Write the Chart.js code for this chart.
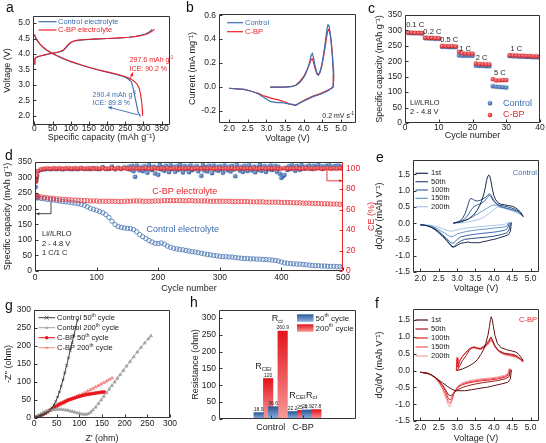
<!DOCTYPE html>
<html>
<head>
<meta charset="utf-8">
<script src="https://cdn.jsdelivr.net/npm/chart.js@4.4.0/dist/chart.umd.min.js"></script>
<style>
html,body{margin:0;padding:0;background:#fff;}
body{width:546px;height:443px;position:relative;overflow:hidden;font-family:"Liberation Sans",Arial,sans-serif;}
canvas{position:absolute;}
.pl{position:absolute;font-size:14px;line-height:14px;color:#111;}
</style>
</head>
<body>
<canvas id="ca"></canvas><canvas id="cb"></canvas><canvas id="cc"></canvas><canvas id="cd"></canvas>
<canvas id="ce"></canvas><canvas id="cf"></canvas><canvas id="cg"></canvas><canvas id="ch"></canvas>
<div class="pl" style="left:6px;top:0px">a</div>
<div class="pl" style="left:186px;top:0px">b</div>
<div class="pl" style="left:368px;top:1px">c</div>
<div class="pl" style="left:5px;top:148px">d</div>
<div class="pl" style="left:376px;top:150px">e</div>
<div class="pl" style="left:375px;top:296px">f</div>
<div class="pl" style="left:5px;top:298px">g</div>
<div class="pl" style="left:190px;top:295px">h</div>
<script>
const FONT = '"Liberation Sans", Arial, sans-serif';
const BLUE = '#3d6db1', RED = '#ea2228', INK = '#222';
Chart.defaults.font.family = FONT;
Chart.defaults.color = INK;

// ================= DATA =================
// (a) first charge / discharge, [capacity mAh/g, voltage V]
const a_ctrl_chg = [[0,3.66],[1,3.84],[4,3.88],[10,3.91],[20,3.94],[30,3.97],[40,4.0],[50,4.02],[60,4.04],[70,4.07],[78,4.1],[85,4.17],[92,4.27],[100,4.36],[108,4.41],[120,4.44],[140,4.46],[170,4.48],[200,4.5],[230,4.51],[260,4.54],[280,4.57],[295,4.61],[305,4.65],[314,4.7],[320,4.75],[323,4.8]];
const a_ctrl_dis = [[0,4.62],[3,4.52],[8,4.42],[15,4.32],[25,4.2],[35,4.11],[45,4.04],[60,3.95],[80,3.84],[100,3.75],[125,3.65],[150,3.56],[175,3.48],[200,3.41],[225,3.34],[245,3.27],[258,3.19],[267,3.1],[271,2.92],[276,2.64],[281,2.36],[285,2.13],[288,2.05],[290.4,2.0]];
const a_cbp_chg = [[0,3.68],[1,3.85],[4,3.89],[10,3.92],[20,3.95],[30,3.98],[40,4.01],[50,4.03],[60,4.05],[70,4.08],[78,4.12],[85,4.2],[92,4.3],[100,4.38],[108,4.42],[120,4.45],[140,4.47],[170,4.49],[200,4.5],[230,4.52],[260,4.54],[280,4.57],[295,4.6],[310,4.65],[320,4.71],[326,4.76],[330,4.8]];
const a_cbp_dis = [[0,4.64],[3,4.54],[8,4.44],[15,4.33],[25,4.21],[35,4.12],[45,4.05],[60,3.96],[80,3.85],[100,3.76],[125,3.66],[150,3.57],[175,3.49],[200,3.42],[225,3.35],[245,3.29],[260,3.22],[272,3.14],[282,3.03],[288,2.9],[292,2.7],[295,2.45],[296.8,2.2],[297.6,2.0]];
const a_series = ['Control electrolyte','C-BP electrolyte'];
const a_notes = {cbp:['297.6 mAh g','ICE: 90.2 %'], ctrl:['290.4 mAh g','ICE: 89.8 %']};
const a_xticks = [0,50,100,150,200,250,300,350];
const a_yticks = [2.0,2.5,3.0,3.5,4.0,4.5,5.0];

// (b) CV, [voltage V, current mA/mg]
const b_ctrl = [[3.1,0.0],[3.3,0.0],[3.5,0.0],[3.7,0.005],[3.8,0.015],[3.9,0.04],[4.0,0.08],[4.05,0.11],[4.1,0.15],[4.15,0.2],[4.2,0.265],[4.23,0.28],[4.26,0.25],[4.3,0.18],[4.35,0.12],[4.39,0.1],[4.43,0.12],[4.48,0.18],[4.53,0.27],[4.58,0.38],[4.62,0.48],[4.65,0.52],[4.68,0.51],[4.72,0.42],[4.76,0.28],[4.79,0.15],[4.8,0.05],[4.78,0.0],[4.74,-0.01],[4.65,-0.03],[4.55,-0.045],[4.45,-0.06],[4.35,-0.07],[4.25,-0.08],[4.15,-0.095],[4.05,-0.11],[3.95,-0.125],[3.85,-0.14],[3.78,-0.15],[3.7,-0.145],[3.6,-0.14],[3.5,-0.135],[3.4,-0.13],[3.3,-0.13],[3.2,-0.125],[3.1,-0.12],[3.0,-0.1],[2.9,-0.08],[2.8,-0.06],[2.7,-0.045],[2.6,-0.035],[2.4,-0.02],[2.2,-0.015],[2.0,-0.01]];
const b_cbp = [[3.1,0.0],[3.5,0.0],[3.7,0.005],[3.8,0.02],[3.9,0.05],[4.0,0.09],[4.05,0.12],[4.1,0.15],[4.15,0.19],[4.2,0.23],[4.23,0.235],[4.26,0.21],[4.3,0.16],[4.35,0.11],[4.39,0.1],[4.43,0.12],[4.48,0.17],[4.53,0.25],[4.58,0.35],[4.63,0.45],[4.66,0.48],[4.69,0.47],[4.73,0.4],[4.77,0.27],[4.8,0.1],[4.79,0.0],[4.75,-0.01],[4.65,-0.025],[4.55,-0.04],[4.45,-0.055],[4.35,-0.065],[4.25,-0.075],[4.15,-0.09],[4.05,-0.105],[3.95,-0.12],[3.85,-0.14],[3.78,-0.155],[3.72,-0.15],[3.6,-0.14],[3.5,-0.125],[3.4,-0.115],[3.3,-0.105],[3.2,-0.098],[3.1,-0.09],[3.0,-0.08],[2.9,-0.07],[2.8,-0.055],[2.7,-0.045],[2.6,-0.035],[2.4,-0.02],[2.2,-0.015],[2.0,-0.01]];
const b_series = ['Control','C-BP'];
const b_xticks = [2.0,2.5,3.0,3.5,4.0,4.5,5.0];
const b_yticks = [-0.2,0.0,0.2,0.4,0.6];

// (c) rate capability
const c_cycles = [1,2,3,4,5,6,7,8,9,10,11,12,13,14,15,16,17,18,19,20,21,22,23,24,25,26,27,28,29,30,31,32,33,34,35,36,37,38,39,40];
const c_ctrl = [292,291,291,291,290,275,274,274,273,273,247,247,246,246,246,219,218,218,218,218,186,185,185,184,184,119,118,117,116,115,217,216,216,215,215,214,214,213,213,213];
const c_cbp  = [293,293,292,292,292,277,276,276,275,275,250,249,249,249,248,231,226,225,225,225,193,191,191,190,190,142,138,138,139,139,220,219,219,218,218,217,217,216,216,215];
const c_rates = ['0.1 C','0.2 C','0.5 C','1 C','2 C','5 C','1 C'];
const c_xticks = [0,10,20,30,40];
const c_yticks = [0,50,100,150,200,250,300,350];

// (d) long cycling
const d_cyc = [1,2,3,5,10,15,20,25,30,35,40,45,50,55,60,65,70,75,80,85,90,95,100,105,110,115,120,125,130,135,140,145,150,155,160,165,170,175,180,185,190,195,200,205,210,215,220,225,230,235,240,245,250,255,260,265,270,275,280,285,290,295,300,305,310,315,320,325,330,335,340,345,350,355,360,365,370,375,380,385,390,395,400,405,410,415,420,425,430,435,440,445,450,455,460,465,470,475,480,485,490,495,500];
const d_ctrl_cap = [236,236,235,
 235,233,232,230,229,228,226,225,223,222,
 221,219,218,216,214,211,206,201,198,195,
 191,187,181,172,160,149,143,140,138,137,
 136,133,126,117,110,104,98,93,89,88,
 90,86,80,76,73,71,69,68,66,64,
 62,61,59,57,55,53,52,50,49,47,
 46,46,45,45,43,42,41,40,40,39,
 39,38,38,37,37,36,35,34,32,29,
 26,25,24,23,22,22,21,20,19,18,
 17,17,16,16,15,15,15,14,14,14];
const d_cbp_cap = [243,242,241,
 240,238,236,235,234,233,232,231,230,230,
 229,228,228,227,227,226,226,225,225,225,
 224,224,224,224,224,224,223,223,224,224,
 224,225,225,225,224,224,224,224,225,225,
 225,226,226,226,226,226,226,226,225,226,
 226,225,225,225,225,225,224,224,224,224,
 224,224,224,223,223,223,223,223,223,222,
 222,222,222,222,221,221,221,221,221,220,
 220,220,220,219,219,219,218,218,218,217,
 217,217,216,216,216,215,215,215,214,214];
const d_cbp_ce = [87,90,93,
 97.5,99.3,99.9,100.1,99.7,100.3,100.0,100.2,99.8,100.1,
 100.3,99.9,100.2,100.0,100.4,99.8,100.1,100.3,99.9,100.2,
 100.0,100.4,99.8,100.1,100.3,99.9,100.2,100.0,100.4,99.8,
 100.1,100.3,99.9,100.2,100.0,100.4,99.8,100.1,100.3,99.9,
 100.2,100.0,100.4,99.8,100.1,100.3,99.9,100.2,100.0,100.4,
 99.8,100.1,100.3,99.9,100.2,100.0,100.4,99.8,100.1,100.3,
 99.9,100.2,100.0,100.4,99.8,100.1,100.3,99.9,100.2,100.0,
 100.4,99.8,100.1,100.3,99.9,100.2,100.0,100.4,99.8,100.1,
 100.3,99.9,100.2,100.0,100.4,99.8,100.1,100.3,99.9,100.2,
 100.0,100.4,99.8,100.1,100.3,99.9,100.2,100.0,100.4,99.8];
const d_ce_cyc = [1,2,3,5,10,15,20,25,30,35,40,45,50,55,60,65,70,75,80,85,90,95,100,105,110,115,120,125,130,135,140,145,
 150,152.5,155,157.5,160,162.5,165,167.5,170,172.5,
 175,177.5,180,182.5,185,187.5,190,192.5,195,197.5,
 200,202.5,205,207.5,210,212.5,215,217.5,220,222.5,
 225,227.5,230,232.5,235,237.5,240,242.5,245,247.5,
 250,252.5,255,257.5,260,262.5,265,267.5,270,272.5,
 275,277.5,280,282.5,285,287.5,290,292.5,295,297.5,
 300,302.5,305,307.5,310,312.5,315,317.5,320,322.5,
 325,327.5,330,332.5,335,337.5,340,342.5,345,347.5,
 350,352.5,355,357.5,360,362.5,365,367.5,370,372.5,
 375,377.5,380,382.5,385,387.5,390,392.5,395,397.5,
 400,402.5,405,407.5,410,412.5,415,417.5,420,422.5,
 425,427.5,430,432.5,435,437.5,440,442.5,445,447.5,
 450,452.5,455,457.5,460,462.5,465,467.5,470,472.5,
 475,477.5,480,482.5,485,487.5,490,492.5,495,497.5,
 500];
const d_ctrl_ce = [82,88,93,
 97.5,98.8,99.2,99.6,99.4,99.8,99.5,99.7,99.3,99.9,
 99.6,99.4,99.8,99.5,100.2,99.6,99.8,99.4,100.5,99.7,
 99.5,101.5,99.8,99.6,102.0,99.4,100.8,99.7,101.2,
 100.2,101.8,99.0,102.6,97.5,92.0,103.0,100.5,98.2,101.2,
 97.5,102.4,99.8,96.0,103.4,100.8,98.6,102.0,95.2,101.0,
 94.0,103.5,99.2,101.6,97.8,102.8,100.4,96.6,103.2,99.6,
 101.4,97.0,102.2,98.8,103.6,100.0,96.2,102.6,99.4,101.8,
 96.5,103.0,98.4,101.2,99.8,102.4,97.4,100.6,93.0,103.4,
 98.0,101.6,97.2,102.8,100.2,95.5,103.0,99.0,101.4,97.8,
 102.2,99.6,96.0,103.2,100.8,98.4,101.8,97.2,102.6,99.2,
 92.5,103.4,100.2,98.0,101.6,96.8,102.8,99.8,97.6,103.2,
 100.4,98.2,102.0,96.4,101.2,99.0,103.6,97.8,100.8,102.4,
 96.8,101.4,99.4,103.0,98.6,100.2,102.6,97.0,101.8,95.0,
 91.0,92.5,93.8,100.8,98.6,102.4,99.6,103.2,101.0,97.8,
 102.6,100.4,98.8,103.4,101.2,99.8,102.0,100.6,103.0,101.4,
 99.6,102.8,100.2,101.8,103.4,100.6,102.2,99.8,101.6,102.8,
 100.8,103.2,101.4,102.0,100.4,102.6,101.2,103.0,100.6,101.8,
 102.2];
const d_labels = ['C-BP electrolyte','Control electrolyte'];
const d_cond = ['Li//LRLO','2 - 4.8 V','1 C/1 C'];
const d_xticks = [0,100,200,300,400,500];
const d_yticks = [0,50,100,150,200,250,300,350];
const d_y2ticks = [0,20,40,60,80,100];

// (e) dQ/dV control, [V, dQ/dV]
const e1_c = [[2.9,0.0],[3.1,0.04],[3.3,0.12],[3.45,0.25],[3.55,0.4],[3.62,0.55],[3.68,0.72],[3.73,0.9],[3.77,1.1],[3.8,1.3],[3.83,1.42],[3.86,1.48],[3.89,1.45],[3.92,1.3],[3.96,1.05],[4.0,0.85],[4.05,0.72],[4.12,0.62],[4.2,0.58],[4.3,0.56],[4.4,0.54],[4.5,0.52],[4.58,0.48],[4.65,0.42],[4.72,0.35],[4.78,0.25],[4.8,0.2]];
const e1_d = [[4.48,0.02],[4.45,-0.25],[4.4,-0.35],[4.3,-0.4],[4.2,-0.43],[4.1,-0.47],[4.0,-0.5],[3.9,-0.52],[3.8,-0.55],[3.7,-0.57],[3.6,-0.6],[3.5,-0.6],[3.4,-0.6],[3.3,-0.58],[3.2,-0.6],[3.1,-0.62],[3.0,-0.68],[2.95,-0.72],[2.9,-0.73],[2.85,-0.7],[2.8,-0.63],[2.7,-0.5],[2.6,-0.38],[2.5,-0.28],[2.4,-0.19],[2.3,-0.13],[2.2,-0.09],[2.1,-0.06],[2.0,-0.05]];
const e50_c = [[2.9,0.0],[3.05,0.05],[3.15,0.15],[3.22,0.3],[3.28,0.5],[3.33,0.68],[3.37,0.76],[3.42,0.74],[3.48,0.7],[3.55,0.68],[3.62,0.7],[3.7,0.74],[3.78,0.8],[3.84,0.87],[3.88,0.9],[3.92,0.86],[3.97,0.75],[4.05,0.62],[4.15,0.55],[4.3,0.52],[4.45,0.48],[4.6,0.42],[4.7,0.35],[4.8,0.2]];
const e50_d = [[4.45,0.02],[4.42,-0.2],[4.35,-0.3],[4.2,-0.35],[4.0,-0.4],[3.8,-0.43],[3.6,-0.45],[3.4,-0.47],[3.2,-0.5],[3.1,-0.55],[3.0,-0.62],[2.92,-0.72],[2.87,-0.74],[2.82,-0.68],[2.7,-0.52],[2.6,-0.4],[2.5,-0.3],[2.4,-0.2],[2.3,-0.13],[2.2,-0.08],[2.0,-0.05]];
const e100_c = [[2.9,0.0],[3.05,0.04],[3.2,0.12],[3.3,0.25],[3.38,0.4],[3.45,0.5],[3.55,0.56],[3.65,0.6],[3.75,0.68],[3.82,0.78],[3.88,0.86],[3.92,0.82],[3.98,0.7],[4.08,0.58],[4.2,0.5],[4.35,0.46],[4.5,0.42],[4.65,0.36],[4.8,0.22]];
const e100_d = [[4.42,0.02],[4.38,-0.15],[4.3,-0.22],[4.1,-0.26],[3.9,-0.29],[3.7,-0.31],[3.5,-0.34],[3.3,-0.37],[3.1,-0.42],[3.0,-0.5],[2.92,-0.6],[2.86,-0.62],[2.8,-0.57],[2.7,-0.45],[2.6,-0.35],[2.5,-0.25],[2.4,-0.17],[2.3,-0.11],[2.2,-0.07],[2.0,-0.05]];
const e150_c = [[2.9,0.0],[3.1,0.04],[3.25,0.1],[3.4,0.18],[3.55,0.28],[3.7,0.38],[3.82,0.46],[3.92,0.53],[4.0,0.56],[4.08,0.55],[4.2,0.5],[4.35,0.45],[4.5,0.4],[4.65,0.34],[4.8,0.22]];
const e150_d = [[4.4,0.02],[4.35,-0.1],[4.2,-0.13],[4.0,-0.15],[3.8,-0.18],[3.6,-0.2],[3.4,-0.23],[3.2,-0.27],[3.0,-0.33],[2.9,-0.4],[2.84,-0.42],[2.76,-0.38],[2.65,-0.3],[2.5,-0.2],[2.4,-0.14],[2.3,-0.09],[2.0,-0.05]];
const e200_c = [[2.95,0.0],[3.2,0.02],[3.4,0.06],[3.6,0.12],[3.75,0.2],[3.88,0.3],[3.98,0.4],[4.06,0.47],[4.12,0.5],[4.2,0.48],[4.35,0.43],[4.5,0.38],[4.65,0.32],[4.8,0.22]];
const e200_d = [[4.35,0.02],[4.3,-0.04],[4.1,-0.06],[3.9,-0.08],[3.7,-0.1],[3.5,-0.12],[3.3,-0.14],[3.1,-0.18],[2.95,-0.22],[2.85,-0.25],[2.75,-0.23],[2.6,-0.17],[2.45,-0.11],[2.3,-0.07],[2.0,-0.04]];
const ef_names = ['1st','50th','100th','150th','200th'];
const ef_xticks = [2.0,2.5,3.0,3.5,4.0,4.5,5.0];
const ef_yticks = [-1.5,-1.0,-0.5,0.0,0.5,1.0,1.5];

// (f) dQ/dV C-BP
const f1_c = [[3.0,0.0],[3.15,0.05],[3.3,0.12],[3.45,0.22],[3.55,0.32],[3.65,0.48],[3.72,0.62],[3.78,0.8],[3.84,1.05],[3.88,1.3],[3.91,1.52],[3.93,1.6],[3.96,1.5],[3.99,1.3],[4.03,1.05],[4.1,0.8],[4.2,0.68],[4.35,0.62],[4.5,0.58],[4.6,0.55],[4.68,0.48],[4.75,0.38],[4.8,0.3]];
const f1_d = [[4.48,0.02],[4.45,-0.25],[4.38,-0.35],[4.2,-0.4],[4.0,-0.45],[3.8,-0.5],[3.6,-0.53],[3.4,-0.57],[3.2,-0.6],[3.05,-0.6],[2.95,-0.6],[2.85,-0.55],[2.75,-0.48],[2.6,-0.36],[2.5,-0.28],[2.4,-0.2],[2.3,-0.13],[2.2,-0.09],[2.0,-0.05]];
const f50_c = [[3.0,0.0],[3.08,0.15],[3.15,0.3],[3.25,0.45],[3.33,0.6],[3.4,0.68],[3.48,0.7],[3.56,0.66],[3.64,0.66],[3.72,0.72],[3.8,0.8],[3.87,0.9],[3.92,1.0],[3.96,0.92],[4.02,0.75],[4.12,0.6],[4.25,0.52],[4.4,0.5],[4.55,0.47],[4.65,0.42],[4.75,0.32],[4.8,0.28]];
const f50_d = [[4.45,0.02],[4.42,-0.18],[4.3,-0.25],[4.1,-0.3],[3.9,-0.33],[3.7,-0.36],[3.5,-0.4],[3.3,-0.45],[3.15,-0.5],[3.0,-0.58],[2.9,-0.68],[2.83,-0.75],[2.77,-0.73],[2.7,-0.6],[2.6,-0.42],[2.5,-0.3],[2.4,-0.2],[2.3,-0.13],[2.2,-0.08],[2.0,-0.05]];
const f100_c = [[2.98,0.0],[3.0,0.35],[3.02,0.1],[3.08,0.3],[3.15,0.42],[3.25,0.55],[3.35,0.66],[3.45,0.7],[3.55,0.67],[3.65,0.65],[3.75,0.72],[3.83,0.8],[3.9,0.92],[3.93,0.96],[3.97,0.88],[4.05,0.7],[4.15,0.58],[4.3,0.5],[4.45,0.47],[4.6,0.43],[4.7,0.36],[4.8,0.27]];
const f100_d = [[4.45,0.05],[4.42,-0.12],[4.3,-0.2],[4.1,-0.25],[3.9,-0.28],[3.7,-0.3],[3.5,-0.33],[3.3,-0.37],[3.15,-0.42],[3.02,-0.5],[2.92,-0.65],[2.85,-0.82],[2.8,-0.88],[2.75,-0.8],[2.68,-0.6],[2.6,-0.45],[2.5,-0.32],[2.4,-0.2],[2.3,-0.13],[2.2,-0.08],[2.0,-0.05]];
const f150_c = [[2.98,0.0],[3.0,0.4],[3.02,0.12],[3.08,0.32],[3.15,0.44],[3.25,0.56],[3.35,0.66],[3.45,0.69],[3.55,0.66],[3.65,0.64],[3.75,0.7],[3.83,0.78],[3.9,0.88],[3.93,0.92],[3.97,0.85],[4.05,0.68],[4.15,0.56],[4.3,0.48],[4.45,0.45],[4.6,0.41],[4.7,0.35],[4.8,0.26]];
const f150_d = [[4.43,0.05],[4.4,-0.1],[4.3,-0.17],[4.1,-0.22],[3.9,-0.25],[3.7,-0.27],[3.5,-0.3],[3.3,-0.34],[3.15,-0.39],[3.02,-0.48],[2.92,-0.66],[2.85,-0.9],[2.8,-0.98],[2.76,-0.92],[2.68,-0.7],[2.6,-0.5],[2.5,-0.34],[2.4,-0.21],[2.3,-0.13],[2.2,-0.08],[2.0,-0.05]];
const f200_c = [[2.98,0.0],[3.0,0.3],[3.02,0.1],[3.08,0.3],[3.15,0.42],[3.25,0.54],[3.35,0.63],[3.45,0.66],[3.55,0.63],[3.65,0.62],[3.75,0.67],[3.83,0.75],[3.9,0.85],[3.93,0.88],[3.97,0.82],[4.05,0.66],[4.15,0.54],[4.3,0.46],[4.45,0.43],[4.6,0.39],[4.7,0.33],[4.8,0.25]];
const f200_d = [[4.42,0.08],[4.38,-0.08],[4.3,-0.14],[4.1,-0.19],[3.9,-0.22],[3.7,-0.24],[3.5,-0.27],[3.3,-0.31],[3.15,-0.36],[3.02,-0.46],[2.92,-0.66],[2.85,-0.95],[2.8,-1.08],[2.76,-1.02],[2.68,-0.78],[2.6,-0.55],[2.5,-0.36],[2.4,-0.22],[2.3,-0.14],[2.2,-0.09],[2.0,-0.05]];

// (g) Nyquist, [Z' ohm, -Z'' ohm]
const g_c50 = [[1,0],[4,2],[8,4],[12,6],[16,8],[20,10],[25,13],[30,16],[35,21],[40,28],[44,36],[48,46],[52,58],[56,72],[60,88],[64,106],[68,126],[72,146],[76,167],[80,188],[84,209],[88,230],[92,252],[96,272]];
const g_c200 = [[1,0],[5,3],[10,7],[15,11],[20,15],[25,18],[30,20],[35,21],[40,22],[45,23],[50,24],[55,24],[60,24],[65,23],[70,22],[75,21],[80,19],[85,18],[90,16],[95,14],[100,13],[105,11],[110,10],[115,10],[120,12],[125,16],[130,22],[136,30],[142,40],[148,50],[154,60],[160,70],[166,80],[172,90],[178,100],[184,110],[190,120],[197,132],[204,144],[212,157],[220,170],[228,183],[236,196],[244,208],[252,220],[258,228]];
const g_b50 = [[1,0],[4,2],[8,4],[12,6],[16,8],[20,11],[25,14],[30,18],[35,22],[40,26],[45,30],[50,34],[55,38],[60,41],[65,44],[70,47],[75,50],[80,52],[85,54],[90,56],[95,58],[100,60],[105,62],[110,63],[115,65],[120,66],[125,67],[130,68],[135,69],[140,70],[145,71],[150,72],[155,72]];
const g_b200 = [[1,0],[5,3],[10,6],[15,9],[20,11],[25,14],[30,17],[35,21],[40,24],[45,28],[50,31],[55,35],[60,38],[65,41],[70,44],[75,48],[80,51],[85,54],[90,57],[95,60],[100,63],[106,66],[112,70],[118,74],[124,78],[130,82],[136,86],[142,90],[148,94],[154,98],[160,102],[166,107],[172,111]];
const g_names = [['Control 50','th',' cycle'],['Control 200','th',' cycle'],['C-BP 50','th',' cycle'],['C-BP 200','th',' cycle']];
const g_ticks = [0,50,100,150,200,250,300];

// (h) resistances (ohm)
const h_groups = ['Control','C-BP'];
const h_terms = [['R','CEI'],['R','ct'],['R','CEI'],['R','ct']];
const h_50  = [18.9, 36.6, 22.2, 26.9];
const h_200 = [120, 260.9, 25.4, 27.8];
const h_cyc = [['50','th',' cycle'],['200','th',' cycle']];
const h_yticks = [0,50,100,150,200,250,300];

// ================= HELPERS =================
function pts(a){return a.map(p=>({x:p[0],y:p[1]}));}
function join(a,b){return pts(a).concat([{x:a[a.length-1][0],y:null}],pts(b));}
function xy(xs,ys){return xs.map((x,i)=>({x:x,y:ys[i]}));}
const f1 = v => Number(v).toFixed(1);

function axis(pos,min,max,ticks,size,o){
  o=o||{};
  const horiz = pos==='bottom';
  return {
    type:'linear', position:pos, min:min, max:max,
    grid:{display:false, drawTicks:false},
    border:{display:false},
    ticks:{padding:(o.pad!==undefined?o.pad:(horiz?1:3)), color:o.color||INK, font:{size:o.fs||8.5, family:FONT}, autoSkip:false, maxRotation:0, minRotation:0, callback:o.fmt||(v=>String(v))},
    title:{display:!!o.title, text:o.title||'', color:o.tcolor||INK, font:{size:9, family:FONT}, padding:0},
    afterBuildTicks: s => { s.ticks = ticks.map(v=>({value:v})); },
    afterFit: s => { if(horiz){ s.height=size; s.paddingLeft=0; s.paddingRight=0; } else { s.width=size; s.paddingTop=0; s.paddingBottom=0; } }
  };
}

function make(id, box, cfg){
  const padT = box.padT!==undefined?box.padT:8, yw2 = box.yw2||0;
  const padR = yw2?0:(box.padR!==undefined?box.padR:12);
  const w = box.R-box.L+box.yw+yw2+padR, h = box.B-box.T+padT+box.xh;
  const c = document.getElementById(id);
  c.width=w; c.height=h;
  c.style.left=(box.L-box.yw)+'px'; c.style.top=(box.T-padT)+'px'; c.style.width=w+'px'; c.style.height=h+'px';
  cfg.options = Object.assign({responsive:false, maintainAspectRatio:false, animation:false, devicePixelRatio:1, events:[],
    layout:{autoPadding:false, padding:{left:0, top:padT, right:padR, bottom:0}},
    plugins:{legend:{display:false}, tooltip:{enabled:false}}}, cfg.options||{});
  return new Chart(c, cfg);
}

function deco(o, extra){
  o=o||{};
  return {id:'deco', afterDraw(chart){
    const ctx=chart.ctx, a=chart.chartArea, s=chart.scales;
    const l=a.left+0.5, t=a.top+0.5, r=a.right-0.5, b=a.bottom-0.5, TL=3;
    ctx.save();
    ctx.lineWidth=1; ctx.strokeStyle='#333';
    ctx.beginPath(); ctx.moveTo(r,t); ctx.lineTo(l,t); ctx.lineTo(l,b); ctx.lineTo(r,b); ctx.stroke();
    ctx.strokeStyle=o.rc||'#333'; ctx.beginPath(); ctx.moveTo(r,t); ctx.lineTo(r,b); ctx.stroke();
    ctx.strokeStyle='#333';
    s.x.ticks.forEach(k=>{const p=Math.round(s.x.getPixelForValue(k.value))+0.5; ctx.beginPath(); ctx.moveTo(p,b); ctx.lineTo(p,b-TL); ctx.stroke();});
    s.y.ticks.forEach(k=>{const p=Math.round(s.y.getPixelForValue(k.value))+0.5; ctx.beginPath(); ctx.moveTo(l,p); ctx.lineTo(l+TL,p); ctx.stroke();});
    if(s.y2){ ctx.strokeStyle=o.rc; s.y2.ticks.forEach(k=>{const p=Math.round(s.y2.getPixelForValue(k.value))+0.5; ctx.beginPath(); ctx.moveTo(r,p); ctx.lineTo(r-TL,p); ctx.stroke();}); }
    ctx.restore();
    if(extra){
      const ox=parseFloat(chart.canvas.style.left), oy=parseFloat(chart.canvas.style.top);
      ctx.save(); ctx.translate(-ox,-oy);
      const X=(v,k)=>s[k||'x'].getPixelForValue(v)+ox, Y=(v,k)=>s[k||'y'].getPixelForValue(v)+oy;
      extra(ctx,X,Y);
      ctx.restore();
    }
  }};
}
function T(ctx,s,x,y,c,fs,al){ctx.font=(fs||7.5)+'px '+FONT; ctx.fillStyle=c||INK; ctx.textAlign=al||'left'; ctx.textBaseline='middle'; ctx.fillText(s,x,y);}
function RT(ctx,parts,x,y,c,fs,al){
  ctx.fillStyle=c||INK; ctx.textBaseline='middle'; ctx.textAlign='left';
  const segs=parts.map(p=>{const f=p[1]?fs*0.65:fs; ctx.font=f+'px '+FONT; return {t:p[0],m:p[1],f:f,w:ctx.measureText(p[0]).width};});
  const W=segs.reduce((s,g)=>s+g.w,0);
  let cx = al==='center'?x-W/2:(al==='right'?x-W:x);
  segs.forEach(g=>{ctx.font=g.f+'px '+FONT; ctx.fillText(g.t,cx,y+(g.m===1?-fs*0.33:(g.m===-1?fs*0.3:0))); cx+=g.w;});
}
function HL(ctx,x1,x2,y,c,w){ctx.strokeStyle=c; ctx.lineWidth=w||1.2; ctx.beginPath(); ctx.moveTo(x1,y); ctx.lineTo(x2,y); ctx.stroke();}
function ARR(ctx,p,c,h){
  h=h||4; ctx.strokeStyle=c; ctx.fillStyle=c; ctx.lineWidth=0.9;
  ctx.beginPath(); p.forEach((q,i)=>i?ctx.lineTo(q[0],q[1]):ctx.moveTo(q[0],q[1])); ctx.stroke();
  const a=p[p.length-2], b=p[p.length-1], ang=Math.atan2(b[1]-a[1],b[0]-a[0]);
  ctx.beginPath(); ctx.moveTo(b[0],b[1]);
  ctx.lineTo(b[0]-h*Math.cos(ang-0.45),b[1]-h*Math.sin(ang-0.45));
  ctx.lineTo(b[0]-h*Math.cos(ang+0.45),b[1]-h*Math.sin(ang+0.45));
  ctx.closePath(); ctx.fill();
}
function ball(r,dark,light){
  const s=Math.ceil(2*r)+1, cv=document.createElement('canvas'); cv.width=s; cv.height=s;
  const g=cv.getContext('2d'), c=s/2;
  const gr=g.createRadialGradient(c-r*0.35,c-r*0.35,r*0.1,c,c,r);
  gr.addColorStop(0,light); gr.addColorStop(1,dark);
  g.fillStyle=gr; g.beginPath(); g.arc(c,c,r,0,Math.PI*2); g.fill();
  return cv;
}
function mark(ctx,kind,x,y,r,c){
  ctx.fillStyle=c; ctx.strokeStyle=c; ctx.lineWidth=0.8; ctx.beginPath();
  if(kind==='circle'){ctx.arc(x,y,r,0,Math.PI*2); ctx.fill();}
  else if(kind==='triangle'){ctx.moveTo(x,y-r); ctx.lineTo(x+r*0.9,y+r*0.6); ctx.lineTo(x-r*0.9,y+r*0.6); ctx.closePath(); ctx.fill();}
  else {ctx.moveTo(x-r,y-r); ctx.lineTo(x+r,y+r); ctx.moveTo(x+r,y-r); ctx.lineTo(x-r,y+r); ctx.stroke();}
}
const BALL_B = ball(2.3,'#1e4e90','#9cc0ee');
const BALL_R = ball(2.3,'#cf1015','#ff9a9a');

// ================= (a) =================
make('ca',{L:33,T:16,R:170,B:125,yw:31,xh:18},{
  type:'line',
  data:{datasets:[
    {data:join(a_cbp_chg,a_cbp_dis), borderColor:RED, borderWidth:1.1, pointRadius:0, order:1},
    {data:join(a_ctrl_chg,a_ctrl_dis), borderColor:BLUE, borderWidth:1.1, pointRadius:0, order:2}
  ]},
  options:{scales:{
    x:axis('bottom',-4,373,a_xticks,18,{title:'Specific capacity (mAh g⁻¹)',pad:-1.6}),
    y:axis('left',1.7,5.23,a_yticks,31,{title:'Voltage (V)',fmt:f1})}},
  plugins:[deco({},(ctx,X,Y)=>{
    HL(ctx,38.5,56.5,21.7,BLUE); T(ctx,a_series[0],58,21.7,BLUE,7.5);
    HL(ctx,38.5,56.5,30,RED); T(ctx,a_series[1],58,30,RED,7.5);
    RT(ctx,[[a_notes.cbp[0],0],['-1',1]],X(262),Y(3.8),RED,7);
    T(ctx,a_notes.cbp[1],X(262),Y(3.5),RED,7);
    ARR(ctx,[[X(262),Y(3.15)],[X(271),Y(3.4)]],RED);
    RT(ctx,[[a_notes.ctrl[0],0],['-1',1]],X(160),Y(2.67),BLUE,7);
    T(ctx,a_notes.ctrl[1],X(160),Y(2.4),BLUE,7);
    ARR(ctx,[[X(285),Y(2.03)],[X(203),Y(2.28)]],BLUE);
  })]
});

// ================= (b) =================
make('cb',{L:219,T:14,R:356,B:123,yw:32,xh:21},{
  type:'line',
  data:{datasets:[
    {data:pts(b_ctrl), borderColor:BLUE, borderWidth:1.2, pointRadius:0, order:1},
    {data:pts(b_cbp), borderColor:RED, borderWidth:1.2, pointRadius:0, order:2}
  ]},
  options:{scales:{
    x:axis('bottom',1.73,5.4,b_xticks,21,{title:'Voltage (V)',fmt:f1,pad:0.2}),
    y:axis('left',-0.3,0.61,b_yticks,32,{title:'Current (mA mg⁻¹)',fmt:f1})}},
  plugins:[deco({},(ctx,X,Y)=>{
    HL(ctx,227,243,22.7,BLUE); T(ctx,b_series[0],245,22.7,BLUE,7.5);
    HL(ctx,227,243,31.7,RED); T(ctx,b_series[1],245,31.7,RED,7.5);
    RT(ctx,[['0.2 mV s',0],['-1',1]],354,116.5,INK,7,'right');
  })]
});

// ================= (c) =================
make('cc',{L:405,T:15,R:540,B:123,yw:31,xh:18,padR:6},{
  type:'scatter',
  data:{datasets:[
    {data:xy(c_cycles,c_cbp), pointStyle:BALL_R, pointRadius:2.3, order:1},
    {data:xy(c_cycles,c_ctrl), pointStyle:BALL_B, pointRadius:2.3, order:2}
  ]},
  options:{scales:{
    x:axis('bottom',0,40,c_xticks,18,{title:'Cycle number',pad:-0.6}),
    y:axis('left',0,350,c_yticks,31,{title:'Specific capacity (mAh g⁻¹)'})}},
  plugins:[deco({},(ctx,X,Y)=>{
    const pos=[[3,318],[8.1,295],[13.1,268],[17.8,240],[22.7,212],[28.1,163],[33,240]];
    c_rates.forEach((s,i)=>T(ctx,s,X(pos[i][0]),Y(pos[i][1]),INK,7.5,'center'));
    T(ctx,d_cond[0],X(1.5),Y(65),INK,7.5); T(ctx,d_cond[1],X(1.5),Y(36),INK,7.5);
    ctx.drawImage(BALL_B,490-3,103.3-3); T(ctx,b_series[0],503,103.3,BLUE,9);
    ctx.drawImage(BALL_R,490-3,115-3); T(ctx,b_series[1],503,115,RED,9);
  })]
});

// ================= (d) =================
make('cd',{L:35,T:162,R:343,B:271,yw:33,xh:23,yw2:34},{
  type:'scatter',
  data:{datasets:[
    {data:xy(d_cyc,d_cbp_ce), yAxisID:'y2', pointStyle:BALL_R, pointRadius:2.3, order:1},
    {data:xy(d_ce_cyc,d_ctrl_ce), yAxisID:'y2', pointStyle:BALL_B, pointRadius:2.3, order:2},
    {data:xy(d_cyc,d_cbp_cap), yAxisID:'y', pointStyle:'circle', pointRadius:2.2, borderWidth:0.8, borderColor:'#e8383d', backgroundColor:'rgba(255,255,255,0)', order:3},
    {data:xy(d_cyc,d_ctrl_cap), yAxisID:'y', pointStyle:'circle', pointRadius:2.2, borderWidth:0.8, borderColor:'#4472b0', backgroundColor:'rgba(255,255,255,0)', order:4}
  ]},
  options:{scales:{
    x:axis('bottom',0,500,d_xticks,23,{title:'Cycle number',pad:1.6}),
    y:axis('left',0,350,d_yticks,33,{title:'Specific capacity (mAh g⁻¹)'}),
    y2:axis('right',0,106.4,d_y2ticks,34,{color:RED})}},
  plugins:[deco({rc:RED},(ctx,X,Y)=>{
    T(ctx,d_labels[0],X(243),Y(254),RED,9,'center');
    T(ctx,d_labels[1],X(240),Y(133.5),BLUE,9,'center');
    T(ctx,d_cond[0],42,234.3,INK,7.5); T(ctx,d_cond[1],42,244,INK,7.5); T(ctx,d_cond[2],42,253.3,INK,7.5);
    ARR(ctx,[[X(26),Y(222)],[X(26),Y(184)],[X(2),Y(184)]],'#333',3.5);
    ARR(ctx,[[X(474),Y(98,'y2')],[X(474),Y(88,'y2')],[X(499),Y(88,'y2')]],RED,3.5);
    ctx.save(); ctx.translate(371.7,216.5); ctx.rotate(-Math.PI/2); T(ctx,'CE (%)',0,0,RED,9,'center'); ctx.restore();
  })]
});

// ================= (e) & (f) =================
const E_COL = ['#1b2a4c','#2e4f82','#3b6aae','#6a98d0','#a9c6ea'];
const F_COL = ['#5e1212','#a01c1e','#e3262b','#f0585b','#f7a3a3'];
function dqdv(id,box,curves,cols,ymax,tag,tagCol,ly){
  make(id,box,{
    type:'line',
    data:{datasets:curves.map((c,i)=>({data:join(c[0],c[1]), borderColor:cols[i], borderWidth:1, pointRadius:0, order:i+1}))},
    options:{scales:{
      x:axis('bottom',1.8,5.23,ef_xticks,box.xh,{title:'Voltage (V)',fmt:f1,pad:box.xpad}),
      y:axis('left',-1.5,ymax,ef_yticks,box.yw,{title:'dQ/dV (mAh V⁻¹)',fmt:f1})}},
    plugins:[deco({},(ctx,X,Y)=>{
      ef_names.forEach((n,i)=>{HL(ctx,415.5,428,ly[i],cols[i],1.2); T(ctx,n,431,ly[i],INK,7.5);});
      T(ctx,tag,537,ly[0],tagCol,7.5,'right');
    })]
  });
}
dqdv('ce',{L:413,T:160,R:539,B:272,yw:39,xh:22,padR:7,xpad:1.2},[[e1_c,e1_d],[e50_c,e50_d],[e100_c,e100_d],[e150_c,e150_d],[e200_c,e200_d]],E_COL,1.94,'Control',BLUE,[173.3,181.7,190,198.3,206.7]);
dqdv('cf',{L:413,T:309,R:539,B:421,yw:39,xh:23,padR:7,xpad:2},[[f1_c,f1_d],[f50_c,f50_d],[f100_c,f100_d],[f150_c,f150_d],[f200_c,f200_d]],F_COL,1.83,'C-BP',RED,[320,329,338,347,356]);

// ================= (g) =================
const G_COL = ['#3a3a3a','#a4a4a4','#e8161c','#f48a8a'];
const G_MK = ['cross','triangle','circle','triangle'];
make('cg',{L:34,T:310,R:170,B:418,yw:31,xh:26},{
  type:'line',
  data:{datasets:[g_c50,g_c200,g_b50,g_b200].map((d,i)=>({data:pts(d), borderColor:G_COL[i], backgroundColor:G_COL[i], borderWidth:1, pointRadius:(G_MK[i]==='circle'?1.5:1.8), pointBorderWidth:0.8, pointStyle:(G_MK[i]==='cross'?'crossRot':G_MK[i]), order:i+1}))},
  options:{scales:{
    x:axis('bottom',0,300,g_ticks,26,{title:"Z' (ohm)",pad:0.2}),
    y:axis('left',0,300,g_ticks,31,{title:"-Z'' (ohm)"})}},
  plugins:[deco({},(ctx,X,Y)=>{
    const ly=[317.7,327.7,337.7,347.7];
    g_names.forEach((n,i)=>{HL(ctx,38.5,55,ly[i],G_COL[i],1); mark(ctx,G_MK[i],46.7,ly[i],1.8,G_COL[i]); RT(ctx,[[n[0],0],[n[1],1],[n[2],0]],57,ly[i],INK,7.5);});
  })]
});

// ================= (h) =================
const H_POS = [14.8,36.0,64.5,85.2], H_GRP = [25.4,72.5];
function vgrad(dark,light){return c=>{const ch=c.chart; if(!ch.chartArea||c.type!=='data') return dark; const ys=ch.scales.y; const t=ys.getPixelForValue(c.raw.y), b=ys.getPixelForValue(0); const g=ch.ctx.createLinearGradient(0,t,0,b); g.addColorStop(0,dark); g.addColorStop(1,light); return g;};}
const HB=['#2b5899','#8fb2df'], HR=['#e3141b','#f89a9a'];
const hx = axis('bottom',0,100,H_GRP,22,{fs:9,pad:3.6});
hx.ticks.callback = (v,i)=>h_groups[i];
make('ch',{L:219,T:310,R:356,B:419,yw:29,xh:22},{
  type:'bar',
  data:{datasets:[
    {data:xy(H_POS,h_50), backgroundColor:vgrad(HB[0],HB[1]), barThickness:9.5, borderWidth:0},
    {data:xy(H_POS,h_200), backgroundColor:vgrad(HR[0],HR[1]), barThickness:9.5, borderWidth:0}
  ]},
  options:{scales:{x:hx, y:axis('left',0,323,h_yticks,29,{title:'Resistance (ohm)'})}},
  plugins:[deco({},(ctx,X,Y)=>{
    [[HB,314.3],[HR,324.3]].forEach((q,i)=>{const g=ctx.createLinearGradient(0,q[1],0,q[1]+7.5); g.addColorStop(0,q[0][0]); g.addColorStop(1,q[0][1]); ctx.fillStyle=g; ctx.fillRect(297,q[1],16.5,7.5);
      RT(ctx,[[h_cyc[i][0],0],[h_cyc[i][1],1],[h_cyc[i][2],0]],315.5,q[1]+4,INK,8);});
    H_POS.forEach((p,i)=>{
      T(ctx,String(h_50[i]),X(p)-4.75,Y(h_50[i])-3,INK,5,'center');
      T(ctx,String(h_200[i]),X(p)+4.75,Y(h_200[i])-3,INK,5,'center');
    });
    const rl=[[H_POS[0],155],[H_POS[1]-0.8,298],[H_POS[2],71],[H_POS[3],71]];
    h_terms.forEach((t,i)=>RT(ctx,[[t[0],0],[t[1],-1]],X(rl[i][0]),Y(rl[i][1]),INK,9,'center'));
  })]
});
</script>
</body>
</html>
